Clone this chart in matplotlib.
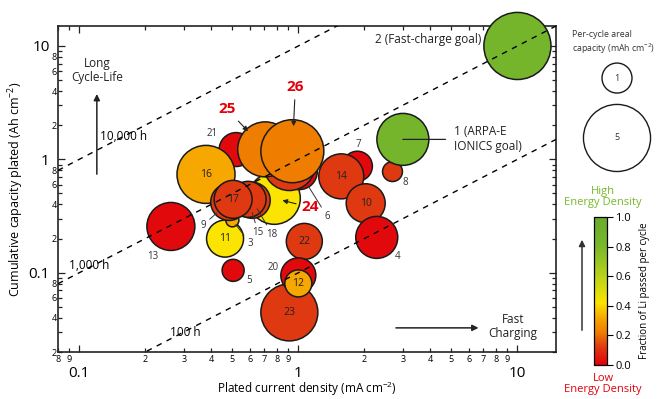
import matplotlib
matplotlib.use('Agg')
import matplotlib.pyplot as plt
import numpy as np
from matplotlib.colors import LinearSegmentedColormap
from matplotlib.ticker import LogLocator, FuncFormatter

plt.rcParams['font.family'] = ['Open Sans', 'DejaVu Sans']
plt.rcParams['mathtext.fontset'] = 'custom'
plt.rcParams['mathtext.rm'] = 'Open Sans'
plt.rcParams['mathtext.default'] = 'regular'

# one entry per study, listed back to front (the order they are drawn in)
labels = ['13', '21', '16', '24', '6', '19', '25', '26', '11', '3', '9', '18', '15', '17',
          '5', '22', '23', '20', '12', '7', '14', '10', '4', '8', '1', '2']
current = [0.262, 0.52, 0.379, 0.777, 1.01, 0.91, 0.706, 0.939, 0.463, 0.5, 0.483, 0.616, 0.59, 0.504,
           0.504, 1.065, 0.91, 1.0, 1.0, 1.86, 1.57, 2.03, 2.28, 2.69, 3.0, 10.0]          # mA cm-2
cumulative = [0.256, 1.22, 0.737, 0.453, 0.78, 0.90, 1.225, 1.18, 0.20, 0.29, 0.42, 0.435, 0.444, 0.444,
              0.105, 0.189, 0.0447, 0.0948, 0.0805, 0.87, 0.708, 0.41, 0.205, 0.78, 1.5, 10.0]  # Ah cm-2
per_cycle = [2.56, 1.28, 3.74, 3.0, 1.44, 3.0, 3.36, 4.41, 1.52, 0.19, 1.5, 1.44, 1.44, 1.6,
             0.54, 1.44, 3.61, 1.36, 0.81, 1.0, 2.25, 1.69, 1.96, 0.44, 3.0, 5.0]       # mAh cm-2
fraction = [0.02, 0.02, 0.32, 0.42, 0.02, 0.12, 0.22, 0.22, 0.42, 0.32, 0.12, 0.12, 0.12, 0.12,
            0.02, 0.12, 0.12, 0.02, 0.32, 0.02, 0.12, 0.12, 0.02, 0.12, 0.85, 0.85]

hours_lines = [10000, 1000, 100]
hours_text = ['10,000 h', '1,000 h', '100 h']
legend_caps = [1, 5]
cbar_ticks = [0.0, 0.2, 0.4, 0.6, 0.8, 1.0]

inside = ['16', '17', '11', '14', '10', '22', '12', '23']
# label offsets in pixels from bubble centre, and leader shrink (None = no leader)
outside = {'21': (-24, 16, None), '7': (1, 22, None), '8': (13, -11, None),
           '4': (21, -19, None), '13': (-18, -30, None), '5': (16, -10, None),
           '20': (-25, 8, None), '9': (-26, -23, 12), '3': (18, -23, 4),
           '15': (10, -33, 10), '18': (20, -34, 7), '6': (28, -45, 13)}
highlight = {'25': (-38, 40, 18), '26': (3, 64, 18), '24': (36, -9, 6)}

cmap = LinearSegmentedColormap.from_list('li', [
    (0.0, '#e3000b'), (0.12, '#de3a10'), (0.22, '#ee7d00'), (0.32, '#f6a800'),
    (0.42, '#fbe400'), (0.6, '#b9d21a'), (0.8, '#7ab82b'), (1.0, '#68ab2d')])

SCALE = (30 * 0.72) ** 2   # marker area (pt^2) for 1 mAh cm-2

fig = plt.figure(figsize=(6.61, 3.99), dpi=100)
ax = fig.add_axes([58 / 661, 1 - 352 / 399, 498 / 661, 326 / 399])
ax.set_xscale('log')
ax.set_yscale('log')
ax.set_xlim(0.08, 15)
ax.set_ylim(0.02, 15)

sc = ax.scatter(current, cumulative, s=np.array(per_cycle) * SCALE, c=fraction, cmap=cmap,
                vmin=0, vmax=1, edgecolors='#1a1a1a', linewidths=1.1, clip_on=False, zorder=3)

# constant plating-time lines
xs = np.logspace(np.log10(0.08), np.log10(15), 100)
for h in hours_lines:
    ax.plot(xs, xs * h / 1000, ls=(0, (4, 4)), color='k', lw=1.0, zorder=4)
ax.text(0.125, 1.6, hours_text[0], fontsize=8.5, va='center', zorder=5)
ax.text(0.09, 0.116, hours_text[1], fontsize=8.5, va='center', zorder=5)
ax.text(0.26, 0.0298, hours_text[2], fontsize=8.5, va='center', zorder=5)

# number labels
pos = {l: (x, y) for l, x, y in zip(labels, current, cumulative)}
for l in inside:
    ax.text(pos[l][0], pos[l][1], l, ha='center', va='center', fontsize=7.5, color='#222', zorder=6)
for l, (dx, dy, sh) in outside.items():
    props = None
    if sh is not None:
        props = dict(arrowstyle='-', color='#333', lw=0.7, shrinkA=1, shrinkB=sh)
    ax.annotate(l, pos[l], xytext=(dx, dy), textcoords='offset pixels', ha='center', va='center',
                fontsize=7, color='#333', arrowprops=props, zorder=6)
for l, (dx, dy, sh) in highlight.items():
    ax.annotate(l, pos[l], xytext=(dx, dy), textcoords='offset pixels', ha='center', va='center',
                fontsize=11, fontweight='bold', color='#e3000b', zorder=6,
                arrowprops=dict(arrowstyle='-|>', color='#222', lw=0.8, shrinkA=2, shrinkB=sh,
                                mutation_scale=7))

ax.annotate('1 (ARPA-E\nIONICS goal)', pos['1'], xytext=(51, 0), textcoords='offset pixels',
            ha='left', va='center', fontsize=8.5, color='#222', zorder=6,
            arrowprops=dict(arrowstyle='-', color='#222', lw=0.9, shrinkA=4, shrinkB=0))
ax.annotate('2 (Fast-charge goal)', pos['2'], xytext=(-36, 6), textcoords='offset pixels',
            ha='right', va='center', fontsize=8.5, color='#222', zorder=6)

# direction hints
ax.text(0.078, 0.862, 'Long\nCycle-Life', transform=ax.transAxes, ha='center', va='center',
        fontsize=8.5, color='#222', linespacing=1.1)
ax.annotate('', xy=(0.078, 0.80), xytext=(0.078, 0.537), xycoords='axes fraction',
            arrowprops=dict(arrowstyle='-|>', color='#222', lw=1.1, mutation_scale=9))
ax.text(0.914, 0.077, 'Fast\nCharging', transform=ax.transAxes, ha='center', va='center',
        fontsize=8.5, color='#222', linespacing=1.1)
ax.annotate('', xy=(0.85, 0.074), xytext=(0.673, 0.074), xycoords='axes fraction',
            arrowprops=dict(arrowstyle='-|>', color='#222', lw=1.1, mutation_scale=9))

# ticks
def minor_fmt(show):
    def f(v, p):
        d = int(round(v / 10 ** np.floor(np.log10(v) + 1e-9)))
        return str(d) if d in show else ''
    return FuncFormatter(f)

major_fmt = FuncFormatter(lambda v, p: f'{v:g}')
for axis, show in ((ax.xaxis, range(2, 10)), (ax.yaxis, (2, 4, 6, 8))):
    axis.set_major_locator(LogLocator(base=10))
    axis.set_minor_locator(LogLocator(base=10, subs=np.arange(2, 10), numticks=20))
    axis.set_major_formatter(major_fmt)
    axis.set_minor_formatter(minor_fmt(show))

ax.tick_params(which='both', direction='in', top=True, right=True, width=0.9, color='#222')
ax.tick_params(which='major', length=5, labelsize=11)
ax.tick_params(which='minor', length=3, labelsize=6.5)
ax.tick_params(axis='x', which='major', pad=10)
ax.tick_params(axis='x', which='minor', pad=2)
ax.tick_params(axis='y', which='major', pad=6)
ax.tick_params(axis='y', which='minor', pad=1)
for s in ax.spines.values():
    s.set_linewidth(1.2)
    s.set_color('#222')

ax.set_xlabel('Plated current density (mA cm$^{-2}$)', fontsize=8.5, labelpad=-1)
ax.set_ylabel('Cumulative capacity plated (Ah cm$^{-2}$)', fontsize=9, labelpad=2)

# bubble size legend
lax = fig.add_axes([577 / 661, 1 - 175 / 399, 80 / 661, 115 / 399])
lax.set_xlim(0, 1)
lax.set_ylim(0, 1)
lax.axis('off')
ly = [0.843, 0.322]
lax.scatter([0.5, 0.5], ly, s=np.array(legend_caps) * SCALE, facecolors='white',
            edgecolors='#1a1a1a', linewidths=1.0, clip_on=False)
for c, y in zip(legend_caps, ly):
    lax.text(0.5, y, str(c), ha='center', va='center', fontsize=6.5, color='#333')
fig.text(572 / 661, 1 - 43 / 399, 'Per-cycle areal\ncapacity (mAh cm$^{-2}$)', ha='left',
         va='center', fontsize=6.3, color='#333', linespacing=1.25)

# colour bar
cax = fig.add_axes([594 / 661, 1 - 365 / 399, 13 / 661, 148 / 399])
cb = fig.colorbar(sc, cax=cax, ticks=cbar_ticks)
cb.ax.set_yticklabels([f'{t:.1f}' for t in cbar_ticks])
cb.ax.tick_params(labelsize=8, length=4, width=0.8, pad=2)
cb.outline.set_linewidth(0.9)
cb.set_label('Fraction of Li passed per cycle', fontsize=7, labelpad=6)
fig.text(603 / 661, 1 - 197 / 399, 'High\nEnergy Density', ha='center', va='center',
         fontsize=8, color='#77b82a', linespacing=1.1)
fig.text(603 / 661, 1 - 384 / 399, 'Low\nEnergy Density', ha='center', va='center',
         fontsize=8, color='#e3000b', linespacing=1.1)
fig.add_artist(matplotlib.patches.FancyArrowPatch((582 / 661, 1 - 333 / 399), (582 / 661, 1 - 237 / 399),
               transform=fig.transFigure, arrowstyle='-|>', mutation_scale=9, color='#333', lw=1.1))

fig.savefig('out.png', dpi=100)
